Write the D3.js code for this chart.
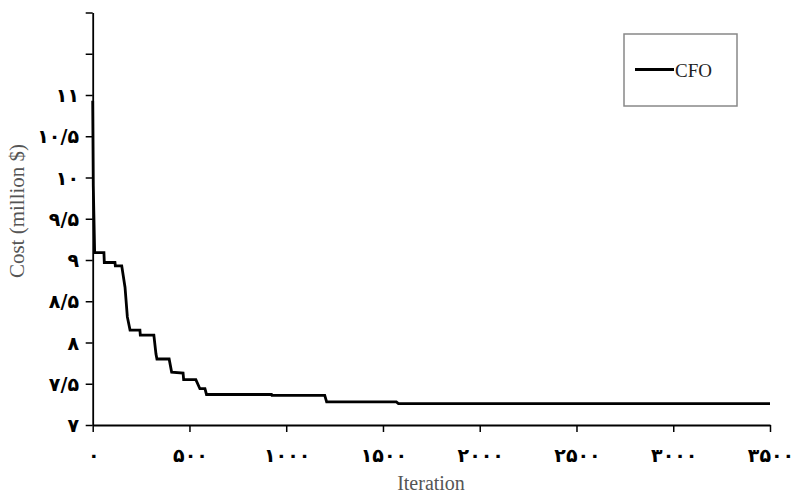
<!DOCTYPE html>
<html lang="en">
<head>
<meta charset="UTF-8">
<script src="https://d3js.org/d3.v7.min.js"></script>
<style>
  body { margin: 0; background: #fff; }
  svg { display: block; }
  .tick-label { font-family: "DejaVu Sans", sans-serif; font-weight: bold; fill: #000; }
  .axis-title { font-family: "Liberation Serif", "Times New Roman", serif; fill: #555; }
</style>
</head>
<body>
<svg id="chart" width="796" height="494"></svg>
<script>
// Iteration / cost pairs
const iterations = [0, 3, 10, 12, 58, 60, 115, 117, 150, 167, 179, 193, 244, 246, 316, 327, 332, 395, 408, 467, 470, 533, 554, 580, 588, 924, 926, 1199, 1209, 1569, 1580, 3500];
const costs = [10.93, 9.9, 9.1, 9.09, 9.09, 8.97, 8.97, 8.93, 8.93, 8.67, 8.31, 8.15, 8.15, 8.09, 8.09, 7.86, 7.80, 7.80, 7.64, 7.63, 7.55, 7.55, 7.44, 7.44, 7.37, 7.37, 7.36, 7.36, 7.28, 7.28, 7.26, 7.26];

const xTicks = [0, 500, 1000, 1500, 2000, 2500, 3000, 3500];
const xTickLabels = ["۰", "۵۰۰", "۱۰۰۰", "۱۵۰۰", "۲۰۰۰", "۲۵۰۰", "۳۰۰۰", "۳۵۰۰"];
const yTicks = [7, 7.5, 8, 8.5, 9, 9.5, 10, 10.5, 11, 11.5, 12];
const yTickLabels = ["۷", "۷/۵", "۸", "۸/۵", "۹", "۹/۵", "۱۰", "۱۰/۵", "۱۱", "", ""];
const seriesName = "CFO";

const svg = d3.select("#chart");
svg.append("rect").attr("width", 796).attr("height", 494).attr("fill", "#fff");

const x = d3.scaleLinear().domain([0, 3500]).range([92.7, 770]);
const y = d3.scaleLinear().domain([7, 12]).range([425, 12.5]);

// x axis
const xAxis = svg.append("g").attr("transform", `translate(0,${y(7)})`)
    .call(d3.axisBottom(x).tickValues(xTicks).tickSize(7).tickSizeOuter(0).tickFormat(""));
xAxis.select(".domain").attr("stroke", "#000").attr("stroke-width", 1.8);
xAxis.selectAll(".tick line").attr("stroke", "#000").attr("stroke-width", 1.5);

svg.append("g").selectAll("text")
    .data(xTicks)
    .join("text")
    .attr("class", "tick-label")
    .attr("x", d => x(d) + 1)
    .attr("y", 462)
    .attr("text-anchor", "middle")
    .attr("font-size", 19)
    .text((d, i) => xTickLabels[i]);

// y axis
const yAxis = svg.append("g").attr("transform", `translate(${x(0)},0)`)
    .call(d3.axisLeft(y).tickValues(yTicks).tickSize(7).tickSizeOuter(0).tickFormat(""));
yAxis.select(".domain").attr("stroke", "#000").attr("stroke-width", 1.8);
yAxis.selectAll(".tick line").attr("stroke", "#000").attr("stroke-width", 1.5);

svg.append("g").selectAll("text")
    .data(yTicks)
    .join("text")
    .attr("class", "tick-label")
    .attr("x", 79)
    .attr("y", d => y(d) + 7)
    .attr("text-anchor", "end")
    .attr("font-size", 19)
    .text((d, i) => yTickLabels[i]);

// axis titles
svg.append("text")
    .attr("class", "axis-title")
    .attr("transform", "translate(24,211) rotate(-90)")
    .attr("text-anchor", "middle")
    .attr("font-size", 21)
    .text("Cost (million $)");

svg.append("text")
    .attr("class", "axis-title")
    .attr("x", 431)
    .attr("y", 490)
    .attr("text-anchor", "middle")
    .attr("font-size", 20)
    .text("Iteration");

// curve
const points = iterations.map((it, i) => [it, costs[i]]);
svg.append("path")
    .datum(points)
    .attr("fill", "none")
    .attr("stroke", "#000")
    .attr("stroke-width", 2.8)
    .attr("stroke-linejoin", "miter")
    .attr("d", d3.line().x(d => x(d[0])).y(d => y(d[1])));

// legend
const legend = svg.append("g");
legend.append("rect")
    .attr("x", 624).attr("y", 34).attr("width", 113).attr("height", 72)
    .attr("fill", "#fff").attr("stroke", "#888").attr("stroke-width", 1.5);
legend.append("line")
    .attr("x1", 635).attr("x2", 674).attr("y1", 69.5).attr("y2", 69.5)
    .attr("stroke", "#000").attr("stroke-width", 2.8);
legend.append("text")
    .attr("class", "axis-title")
    .attr("x", 675).attr("y", 76.5)
    .attr("font-size", 19)
    .style("fill", "#222")
    .text(seriesName);
</script>
</body>
</html>
